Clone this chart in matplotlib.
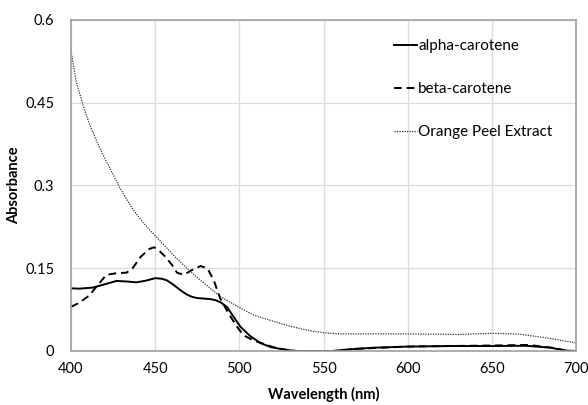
import matplotlib
matplotlib.use("Agg")
import matplotlib.pyplot as plt

plt.rcParams['font.family'] = ['Lato', 'DejaVu Sans']

# alpha-carotene (solid)
alpha_x = [400, 405, 413, 419, 427, 433, 439, 444.5, 450, 454, 457, 460, 463, 466, 469, 472,
           475, 479, 483, 486, 489, 492.6, 496.6, 500.6, 506.5, 512.4, 518.4, 524, 530, 535,
           555, 565, 580, 600, 625, 650, 670, 685, 693, 700]
alpha_y = [0.1136, 0.113, 0.115, 0.120, 0.127, 0.126, 0.1245, 0.1275, 0.132, 0.131, 0.128,
           0.122, 0.115, 0.108, 0.102, 0.098, 0.096, 0.095, 0.094, 0.092, 0.088, 0.080, 0.062,
           0.044, 0.027, 0.0146, 0.0073, 0.004, 0.0012, 0.0, 0.0, 0.003, 0.006, 0.008, 0.009,
           0.009, 0.0095, 0.006, 0.001, 0.0]

# beta-carotene (dashed)
beta_x = [400, 405, 411, 416, 421, 427, 433, 436.6, 441.5, 446.5, 449.4, 452, 456, 460, 463,
          467, 472, 477, 481, 484.7, 488.7, 493.6, 498.6, 502.5, 508.5, 514.4, 520, 528, 533,
          558, 570, 600, 650, 672, 688, 695, 700]
beta_y = [0.080, 0.0875, 0.101, 0.120, 0.138, 0.141, 0.142, 0.150, 0.171, 0.185, 0.188, 0.183,
          0.171, 0.156, 0.142, 0.138, 0.147, 0.154, 0.150, 0.129, 0.095, 0.068, 0.044, 0.0285,
          0.019, 0.013, 0.007, 0.002, 0.0, 0.0, 0.004, 0.008, 0.010, 0.011, 0.005, 0.0, 0.0]

# Orange Peel Extract (dotted)
orange_x = [400, 403, 407, 411, 417, 423, 429, 436, 443, 449, 455, 462, 471, 479, 489, 500,
            508.5, 518, 530, 540, 550, 560, 600, 630, 650, 665, 680, 690, 700]
orange_y = [0.544, 0.49, 0.447, 0.411, 0.368, 0.332, 0.296, 0.260, 0.232, 0.212, 0.193, 0.170,
            0.144, 0.123, 0.098, 0.079, 0.065, 0.056, 0.045, 0.038, 0.033, 0.031, 0.031, 0.030,
            0.032, 0.031, 0.025, 0.020, 0.0146]

x_ticks = [400, 450, 500, 550, 600, 650, 700]
y_ticks = [0, 0.15, 0.3, 0.45, 0.6]
y_tick_labels = ['0', '0.15', '0.3', '0.45', '0.6']

fig = plt.figure(figsize=(5.88, 4.05), dpi=100)
ax = fig.add_axes([71/588, 1 - 351/405, 505/588, 331/405])

ax.plot(alpha_x, alpha_y, color='black', lw=1.4, ls='-', label='alpha-carotene')
ax.plot(beta_x, beta_y, color='black', lw=1.4, ls=(0, (4, 2.5)), label='beta-carotene')
ax.plot(orange_x, orange_y, color='#333333', lw=0.9, ls=(0, (1, 1)), label='Orange Peel Extract')

ax.set_xlim(400, 700)
ax.set_ylim(0, 0.6)
ax.set_xticks(x_ticks)
ax.set_yticks(y_ticks)
ax.set_yticklabels(y_tick_labels)
ax.grid(True, color='#dcdcdc', lw=0.9)
ax.set_axisbelow(True)
for s in ax.spines.values():
    s.set_color('#a0a0a0')
    s.set_linewidth(1.2)
ax.tick_params(length=0, labelsize=10.5, colors='black')
ax.tick_params(axis='x', pad=8)
ax.tick_params(axis='y', pad=12)

ax.set_xlabel('Wavelength (nm)', fontsize=10.5, fontweight='bold', labelpad=8)
ax.set_ylabel('Absorbance', fontsize=10.5, fontweight='bold', labelpad=3)

leg = ax.legend(loc='upper left', bbox_to_anchor=(0.627, 0.96), frameon=False,
                fontsize=11, labelspacing=1.9, handlelength=1.5, handletextpad=0.1,
                borderaxespad=0)

fig.savefig('out.png', dpi=100)
